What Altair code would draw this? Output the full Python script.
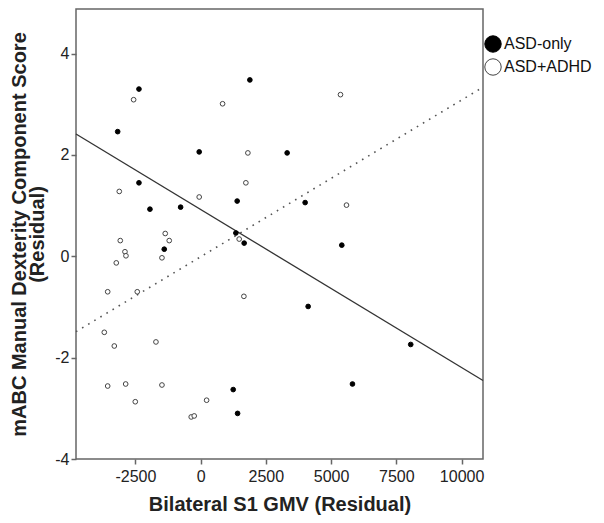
import altair as alt
import pandas as pd

groups = ["ASD-only", "ASD+ADHD"]

asd_only_x = [-2362, 1887, -3177, -54, 3315, -2362, -1941, -766, 1401, 1351,
              1669, -1393, 4005, 5409, 4120, 8050, 5818, 1249, 1417]
asd_only_y = [3.30, 3.48, 2.46, 2.06, 2.04, 1.45, 0.93, 0.97, 1.09, 0.46,
              0.26, 0.14, 1.06, 0.22, -0.99, -1.74, -2.52, -2.63, -3.10]

adhd_x = [-2566, 842, 1811, -3116, 1734, -54, -3078, -1355, -1202, 1478,
          -2898, -2860, -1481, -3231, -3560, -2427, 1658, -3690, -1711, -3307,
          -3560, -2871, -1481, -2503, 230, -360, -245, 5359, 5589]
adhd_y = [3.09, 3.01, 2.04, 1.28, 1.45, 1.17, 0.31, 0.45, 0.31, 0.34,
          0.09, 0.01, -0.03, -0.13, -0.70, -0.70, -0.79, -1.50, -1.69, -1.77,
          -2.56, -2.52, -2.54, -2.87, -2.84, -3.17, -3.15, 3.19, 1.01]

x_ticks = [-2500, 0, 2500, 5000, 7500, 10000]
y_ticks = [-4, -2, 0, 2, 4]
x_domain = [-4774, 10819]
y_domain = [-4, 4.88]

df = pd.DataFrame({
    "x": asd_only_x + adhd_x,
    "y": asd_only_y + adhd_y,
    "group": [groups[0]] * len(asd_only_x) + [groups[1]] * len(adhd_x),
})

label_expr = "datum.value < 0 ? '-' + abs(datum.value) : '' + datum.value"

xs = alt.Scale(domain=x_domain, nice=False, zero=False)
ys = alt.Scale(domain=y_domain, nice=False, zero=False)

xenc = alt.X("x:Q", scale=xs, title="Bilateral S1 GMV (Residual)",
             axis=alt.Axis(values=x_ticks, labelExpr=label_expr, titlePadding=10,
                           labelPadding=4))
yenc = alt.Y("y:Q", scale=ys, title=["mABC Manual Dexterity Component Score", "(Residual)"],
             axis=alt.Axis(values=y_ticks, labelExpr=label_expr, titlePadding=7,
                           labelPadding=2, titleLineHeight=18))

base = alt.Chart(df)

leg = alt.Legend(title=None, orient="none", legendX=408, legendY=26, symbolSize=270,
                 labelFontSize=16, labelFont="Liberation Sans", labelColor="#111",
                 symbolStrokeWidth=1, symbolType="circle",
                 rowPadding=1, labelOffset=2)

points = base.mark_circle(opacity=1, strokeWidth=1, size=22).encode(
    x=xenc,
    y=yenc,
    fill=alt.Fill("group:N", scale=alt.Scale(domain=groups, range=["black", "white"]), legend=leg),
    stroke=alt.Stroke("group:N", scale=alt.Scale(domain=groups, range=["black", "#444"]), legend=leg),
)

solid = base.transform_filter(alt.datum.group == groups[0]).transform_regression(
    "x", "y", extent=x_domain
).mark_line(color="#333", strokeWidth=1.3).encode(x="x:Q", y="y:Q")

dotted = base.transform_filter(alt.datum.group == groups[1]).transform_regression(
    "x", "y", extent=x_domain
).mark_line(color="#555", strokeWidth=1.6, strokeDash=[1.6, 5.5]).encode(x="x:Q", y="y:Q")

chart = alt.layer(solid, dotted, points).properties(
    width=407, height=450,
    padding={"left": 68, "top": 1, "right": 112, "bottom": 56},
    autosize=alt.AutoSizeParams(type="none"),
).configure_view(
    stroke="#666", strokeWidth=1.5
).configure_axis(
    grid=False, domain=False, tickColor="#666", tickSize=5, tickWidth=1.5,
    labelFont="Liberation Sans", labelFontSize=16, labelColor="#222",
    titleFont="Liberation Sans", titleFontSize=20, titleFontWeight="bold", titleColor="#222",
)

chart.save("out.html", embed_options={"renderer": "svg", "actions": False})
